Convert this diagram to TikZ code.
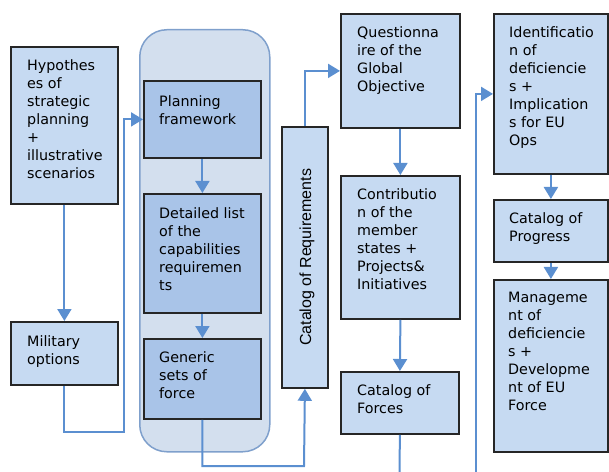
\documentclass[tikz,border=0pt]{standalone}
\usepackage{fontspec}
\setmainfont{DejaVu Sans}
\newfontfamily\arialfont{Liberation Sans}
\usetikzlibrary{arrows.meta}
\definecolor{boxfill}{HTML}{C6DAF2}
\definecolor{darkfill}{HTML}{A9C4E8}
\definecolor{contfill}{HTML}{D3DFEE}
\definecolor{contline}{HTML}{7FA0CC}
\definecolor{arrowcol}{HTML}{5B8FD0}
\definecolor{edgecol}{HTML}{262626}
\tikzset{
  x=1bp, y=-1bp,
  box/.style={draw=edgecol, line width=1.8bp, fill=boxfill, anchor=north west, inner sep=0pt},
  darkbox/.style={box, fill=darkfill},
  txt/.style={anchor=north west, inner sep=0pt, align=left, font=\fontsize{14.3bp}{18bp}\selectfont},
  arr/.style={draw=arrowcol, line width=2bp, -{Triangle[width=14bp,length=12bp]}},
  plainline/.style={draw=arrowcol, line width=2bp},
}
\newcommand{\mkbox}[6]{% style, name, x1, y1, x2, y2
  \node[#1, minimum width={(#5-#3)*1bp}, minimum height={(#6-#4)*1bp}] (#2) at (#3,#4) {};}
\begin{document}
\begin{tikzpicture}
\useasboundingbox (0,0) rectangle (609,472);
% container
\node[draw=contline, line width=1.5bp, fill=contfill, rounded corners=27bp, anchor=north west, inner sep=0pt,
      minimum width=130bp, minimum height=422bp] (cont) at (139,29) {};
% boxes
\mkbox{box}{hyp}{10}{46}{117}{203}
\mkbox{box}{mil}{10}{321}{117}{384}
\mkbox{darkbox}{plan}{143}{80}{260}{157}
\mkbox{darkbox}{det}{143}{193}{260}{312}
\mkbox{darkbox}{gen}{143}{338}{260}{418}
\mkbox{box}{req}{281}{126}{327}{387}
\mkbox{box}{quest}{340}{13}{459}{127}
\mkbox{box}{contrib}{340}{175}{459}{318}
\mkbox{box}{forces}{340}{371}{458}{433}
\mkbox{box}{ident}{493}{13}{607}{173}
\mkbox{box}{prog}{493}{199}{607}{261}
\mkbox{box}{mgmt}{493}{279}{607}{451}
% texts
\node[txt] (thyp) at ([shift={(17,13)}]hyp.north west) {Hypothes\\es of\\strategic\\planning\\+\\illustrative\\scenarios};
\node[txt] (tmil) at ([shift={(17,14)}]mil.north west) {Military\\options};
\node[txt] (tplan) at ([shift={(16,15)}]plan.north west) {Planning\\framework};
\node[txt] (tdet) at ([shift={(16,14)}]det.north west) {Detailed list\\of the\\capabilities\\requiremen\\ts};
\node[txt] (tgen) at ([shift={(16,13)}]gen.north west) {Generic\\sets of\\force};
\node[txt] (tquest) at ([shift={(17,13)}]quest.north west) {Questionna\\ire of the\\Global\\Objective};
\node[txt] (tcontrib) at ([shift={(17,13)}]contrib.north west) {Contributio\\n of the\\member\\states +\\Projects\&\\Initiatives};
\node[txt] (tforces) at ([shift={(17,13)}]forces.north west) {Catalog of\\Forces};
\node[txt] (tident) at ([shift={(16,13)}]ident.north west) {Identificatio\\n of\\deficiencie\\s +\\Implication\\s for EU\\Ops};
\node[txt] (tprog) at ([shift={(16,13)}]prog.north west) {Catalog of\\Progress};
\node[txt] (tmgmt) at ([shift={(15,13)}]mgmt.north west) {Manageme\\nt of\\deficiencie\\s +\\Developme\\nt of EU\\Force};
\node[rotate=90, inner sep=0pt, font=\arialfont\fontsize{16bp}{18bp}\selectfont] (treq) at ([xshift=2bp]req.center) {Catalog of Requirements};
% connector coordinates
\coordinate (c1) at (124,432);
\coordinate (c2) at (304,466);
\coordinate (c3) at (399.5,472);
\coordinate (c4) at (476,472);
% connectors
\draw[arr] (hyp.south) -- (mil.north);
\draw[arr] (mil.south) |- (c1) |- (plan.west);
\draw[arr] (plan.south) -- (det.north);
\draw[arr] (det.south) -- (gen.north);
\draw[arr] (gen.south) |- (c2) -- (req.south);
\draw[arr] (req.north) |- (quest.west);
\draw[arr] (quest.south) -- (contrib.north);
\draw[arr] (contrib.south) -- (forces.north);
\draw[plainline] (forces.south) -- (c3);
\draw[arr] (c4) |- (ident.west);
\draw[arr] (ident.south) -- (prog.north);
\draw[arr] (prog.south) -- (mgmt.north);
\end{tikzpicture}
\end{document}
